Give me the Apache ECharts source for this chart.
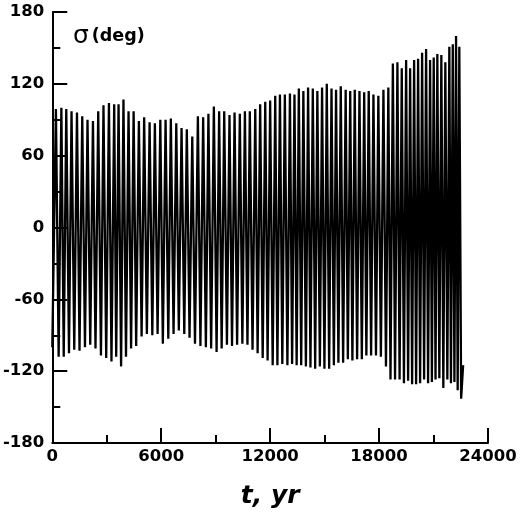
<!DOCTYPE html>
<html>
<head>
<meta charset="utf-8">
<script src="https://cdn.jsdelivr.net/npm/echarts@6/dist/echarts.min.js"></script>
<style>
  html, body {margin: 0; padding: 0; background: #fff; overflow: hidden;}
  #chart {width: 520px; height: 514px;}
</style>
</head>
<body>
<div id="chart"></div>
<script>
// upper turning points of sigma (t in yr, value in deg)
let peakT = [200, 500, 770, 1060, 1360, 1650, 1940, 2240, 2530, 2820,
  3120, 3410, 3650, 3920, 4200, 4480, 4770, 5060, 5360, 5650,
  5950, 6240, 6530, 6830, 7120, 7410, 7710, 8020, 8310, 8600,
  8900, 9190, 9470, 9760, 10040, 10330, 10610, 10880, 11180, 11450,
  11730, 12000, 12280, 12540, 12810, 13090, 13340, 13580, 13830, 14090,
  14350, 14600, 14860, 15120, 15380, 15630, 15890, 16160, 16410, 16660,
  16920, 17180, 17430, 17690, 17960, 18240, 18510, 18760, 19010, 19250,
  19490, 19710, 19930, 20150, 20370, 20590, 20810, 21010, 21210, 21430,
  21650, 21870, 22060, 22240, 22420];
let peakV = [99, 100, 99, 97, 96, 93, 90, 89, 97, 102,
  104, 103, 103, 107, 97, 97, 89, 92, 88, 87,
  90, 90, 91, 87, 83, 82, 76, 93, 92, 95,
  101, 97, 97, 94, 96, 95, 97, 97, 99, 103,
  105, 106, 110, 111, 111, 112, 111, 116, 114, 117,
  116, 114, 117, 120, 116, 115, 118, 115, 114, 115,
  114, 113, 114, 111, 110, 115, 117, 137, 138, 133,
  140, 133, 140, 141, 146, 149, 140, 142, 145, 144,
  138, 151, 153, 160, 151];

// lower turning points
let troughT = [0, 350, 630, 920, 1210, 1500, 1800, 2090, 2380, 2680,
  2970, 3260, 3520, 3790, 4060, 4340, 4620, 4920, 5210, 5510,
  5800, 6090, 6390, 6680, 6970, 7270, 7560, 7860, 8160, 8460,
  8750, 9050, 9330, 9620, 9900, 10180, 10470, 10750, 11030, 11310,
  11590, 11860, 12140, 12400, 12670, 12950, 13210, 13460, 13710, 13970,
  14220, 14480, 14740, 14990, 15250, 15510, 15760, 16020, 16280, 16530,
  16790, 17050, 17300, 17560, 17830, 18100, 18380, 18630, 18880, 19130,
  19370, 19600, 19820, 20040, 20260, 20480, 20700, 20910, 21110, 21320,
  21540, 21760, 21960, 22150, 22330, 22520, 22630];
let troughV = [-100, -108, -108, -105, -102, -103, -100, -98, -101, -107,
  -109, -112, -108, -116, -108, -101, -99, -91, -89, -90,
  -89, -97, -93, -89, -86, -89, -92, -97, -99, -100,
  -101, -104, -101, -98, -99, -98, -97, -98, -102, -105,
  -109, -111, -115, -115, -114, -115, -114, -115, -115, -116,
  -117, -118, -116, -118, -118, -115, -113, -113, -110, -111,
  -110, -110, -107, -107, -107, -108, -116, -127, -127, -127,
  -130, -128, -131, -131, -130, -127, -130, -129, -127, -126,
  -134, -127, -130, -129, -136, -143, -115];

let yTicks = [-180, -120, -60, 0, 60, 120, 180];
let xTicks = [0, 6000, 12000, 18000, 24000];

// merge the turning points in time order
let sigma = [];
peakT.forEach(function (t, i) {
  sigma.push([t, peakV[i]]);
});
troughT.forEach(function (t, i) {
  sigma.push([t, troughV[i]]);
});
sigma.sort(function (a, b) {
  return a[0] - b[0];
});

let font = 'DejaVu Sans, Verdana, sans-serif';
let labelFont = {color: '#000', fontFamily: font, fontWeight: 'bold', fontSize: 16.5};

let chart = echarts.init(document.getElementById('chart'), null, {renderer: 'canvas'});
chart.setOption({
  animation: false,
  backgroundColor: '#fff',
  grid: {left: 52, top: 12, width: 436, height: 435, containLabel: false},
  xAxis: {
    type: 'value', min: xTicks[0], max: xTicks[xTicks.length - 1], interval: 6000,
    name: 't, yr', nameLocation: 'middle', nameGap: 41,
    nameTextStyle: {color: '#000', fontFamily: font, fontWeight: 'bold', fontStyle: 'italic', fontSize: 25},
    axisLine: {show: true, onZero: false, lineStyle: {color: '#000', width: 2}},
    axisTick: {show: true, inside: true, length: 15, lineStyle: {color: '#000', width: 2}},
    minorTick: {show: true, splitNumber: 2, length: 8, lineStyle: {color: '#000', width: 2}},
    axisLabel: Object.assign({
      margin: 5, showMaxLabel: true,
      formatter: function (v) {
        return String(v);
      }
    }, labelFont),
    splitLine: {show: false}
  },
  yAxis: {
    type: 'value', min: yTicks[0], max: yTicks[yTicks.length - 1], interval: 60,
    axisLine: {show: true, onZero: false, lineStyle: {color: '#000', width: 2}},
    axisTick: {show: true, inside: true, length: 15, lineStyle: {color: '#000', width: 2}},
    minorTick: {show: true, splitNumber: 2, length: 8, lineStyle: {color: '#000', width: 2}},
    axisLabel: Object.assign({margin: 8}, labelFont),
    splitLine: {show: false}
  },
  graphic: [
    {
      type: 'text', left: 73, top: 24,
      style: {
        text: '{s|σ}{d|(deg)}',
        rich: {
          s: {fontFamily: font, fontSize: 25, fill: '#000'},
          d: {fontFamily: font, fontWeight: 'bold', fontSize: 17.5, fill: '#000', padding: [0, 0, 0, 3]}
        }
      }
    }
  ],
  series: [
    {
      type: 'line', data: sigma, showSymbol: false, symbol: 'none',
      lineStyle: {color: '#000', width: 2.3},
      clip: true
    }
  ]
});
</script>
</body>
</html>
